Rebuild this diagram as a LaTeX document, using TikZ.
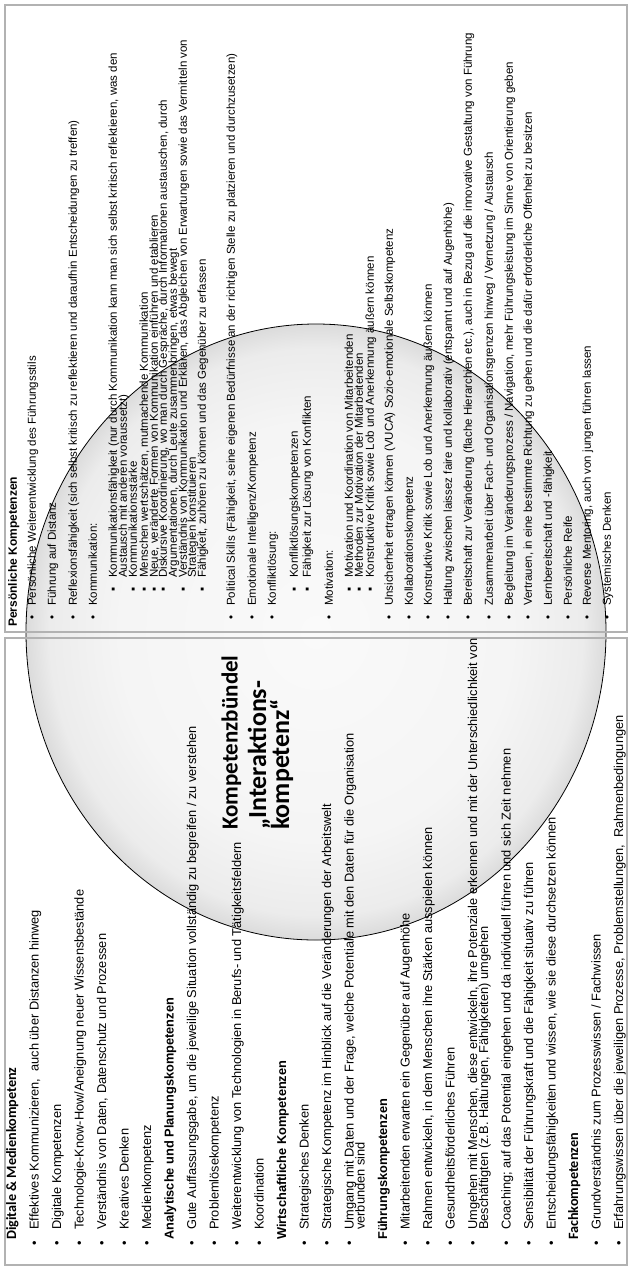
\documentclass[tikz,border=0pt]{standalone}
\usepackage{fontspec}
\setmainfont{Liberation Sans}
\newfontfamily\calib{Carlito}
\pgfdeclareradialshading{ringshade}{\pgfpoint{0bp}{0bp}}{color(0bp)=(gray!4); color(17bp)=(gray!8); color(23bp)=(gray!15); color(25bp)=(gray!28); color(50bp)=(gray!28)}
\tikzset{
  rt/.style={rotate=90, anchor=west, inner sep=0pt},
  pf/.style={rt, font=\fontsize{11.5}{12}\selectfont, text height=8.3pt, text depth=2.6pt},
  pfb/.style={rt, font=\fontsize{12}{12}\selectfont\bfseries, text height=8.6pt, text depth=2.7pt},
  bf/.style={rt, font=\fontsize{12.8}{14}\selectfont, text height=9.3pt, text depth=2.9pt},
  bfb/.style={rt, font=\fontsize{12.8}{14}\selectfont\bfseries, text height=9.3pt, text depth=2.9pt},
  bfc/.style={rt, font=\calib\fontsize{14.2}{15}\selectfont\bfseries, text height=9.3pt, text depth=2.9pt},
  ttl/.style={rt, font=\calib\fontsize{23}{24}\selectfont\bfseries, text height=16pt, text depth=5pt},
  ttlb/.style={rt, font=\calib\fontsize{26}{27}\selectfont\bfseries, text height=18pt, text depth=6pt},
  panel/.style={draw=gray!60, line width=2.5pt},
}
\newcommand\pitem[3]{\node[pf] (#1b) at (#2,620) {•}; \node[pf] (#1) at (#2,606) {#3};}
\newcommand\psub[3]{\node[pf] (#1b) at (#2,592) {▪}; \node[pf] (#1) at (#2,578) {#3};}
\newcommand\pcont[3]{\node[pf] (#1) at (#2,578) {#3};}
\newcommand\bitem[3]{\node[bf] (#1b) at (#2,1246) {•}; \node[bf] (#1) at (#2,1230) {#3};}
\newcommand\bcont[3]{\node[bf] (#1) at (#2,1230) {#3};}
\begin{document}
\begin{tikzpicture}[x=1pt,y=-1pt]
\useasboundingbox (0,0) rectangle (632,1270);
\fill[white] (0,0) rectangle (632,1270);
% circle
\path[shading=ringshade] (316,632) ellipse [x radius=290pt, y radius=308pt];
\draw[black, line width=0.8pt] (316,632) ellipse [x radius=290pt, y radius=308pt];
% panels
\draw[panel] (5,5) rectangle (627,632);
\draw[panel] (5,638) rectangle (627,1265);

% ---------- top panel: Persoenliche Kompetenzen
\node[pfb] (ph) at (14,627) {Persönliche Kompetenzen};
\pitem{p1}{33}{Persönliche Weiterentwicklung des Führungsstils}
\pitem{p2}{53}{Führung auf Distanz}
\pitem{p3}{74}{Reflexionsfähigkeit (sich selbst kritisch zu reflektieren und daraufhin Entscheidungen zu treffen)}
\pitem{p4}{94}{Kommunikation:}
\psub{p5}{114}{Kommunikationsfähigkeit (nur durch Kommunikation kann man sich selbst kritisch reflektieren, was den}
\pcont{p5c}{124}{Austausch mit anderen voraussetzt)}
\psub{p6}{134}{Kommunikationsstärke}
\psub{p7}{145}{Menschen wertschätzen, mutmachende Kommunikation}
\psub{p8}{155}{Neue, veränderte Formen von Kommunikation einführen und etablieren}
\psub{p9}{164}{Diskursive Koordinierung, wo man durch Gespräche, durch Informationen austauschen, durch}
\pcont{p9c}{174}{Argumentationen, durch Leute zusammenbringen, etwas bewegt}
\psub{p10}{184}{Verständnis von Kommunikation und Erklären, das Abgleichen von Erwartungen sowie das Vermitteln von}
\pcont{p10c}{193}{Strategien konstituieren}
\psub{p11}{203}{Fähigkeit, zuhören zu können und das Gegenüber zu erfassen}
\pitem{p12}{232}{Political Skills (Fähigkeit, seine eigenen Bedürfnisse an der richtigen Stelle zu platzieren und durchzusetzen)}
\pitem{p13}{253}{Emotionale Intelligenz/Kompetenz}
\pitem{p14}{273}{Konfliktlösung:}
\psub{p15}{295}{Konfliktlösungskompetenzen}
\psub{p16}{308}{Fähigkeit zur Lösung von Konflikten}
\pitem{p17}{330}{Motivation:}
\psub{p18}{350}{Motivation und Koordination von Mitarbeitenden}
\psub{p19}{360}{Methoden zur Motivation der Mitarbeitenden}
\psub{p20}{371}{Konstruktive Kritik sowie Lob und Anerkennung äußern können}
\pitem{p21}{390}{Unsicherheit ertragen können (VUCA) Sozio-emotionale Selbstkompetenz}
\pitem{p22}{410}{Kollaborationskompetenz}
\pitem{p23}{429}{Konstruktive Kritik sowie Lob und Anerkennung äußern können}
\pitem{p24}{449}{Haltung zwischen laissez faire und kollaborativ (entspannt und auf Augenhöhe)}
\pitem{p25}{469}{Bereitschaft zur Veränderung (flache Hierarchien etc.), auch in Bezug auf die innovative Gestaltung von Führung}
\pitem{p26}{490}{Zusammenarbeit über Fach- und Organisationsgrenzen hinweg / Vernetzung / Austausch}
\pitem{p27}{510}{Begleitung im Veränderungsprozess / Navigation, mehr Führungsleistung im Sinne von Orientierung geben}
\pitem{p28}{529}{Vertrauen, in eine bestimmte Richtung zu gehen und die dafür erforderliche Offenheit zu besitzen}
\pitem{p29}{549}{Lernbereitschaft und -fähigkeit}
\pitem{p30}{569}{Persönliche Reife}
\pitem{p31}{588}{Reverse Mentoring, auch von jungen führen lassen}
\pitem{p32}{608}{Systemisches Denken}

% ---------- bottom panel
\node[bfc] (h1) at (13,1240) {Digitale \& Medienkompetenz};
\bitem{b1}{35.5}{Effektives Kommunizieren,\ \ auch über Distanzen hinweg}
\bitem{b2}{58}{Digitale Kompetenzen}
\bitem{b3}{80.5}{Technologie-Know-How/Aneignung neuer Wissensbestände}
\bitem{b4}{103}{Verständnis von Daten, Datenschutz und Prozessen}
\bitem{b5}{125.5}{Kreatives Denken}
\bitem{b6}{148}{Medienkompetenz}
\node[bfb] (h2) at (170.5,1240) {Analytische und Planungskompetenzen};
\bitem{b7}{193}{Gute Auffassungsgabe, um die jeweilige Situation vollständig zu begreifen / zu verstehen}
\bitem{b8}{215.5}{Problemlösekompetenz}
\bitem{b9}{238}{Weiterentwicklung von Technologien in Berufs- und Tätigkeitsfeldern}
\bitem{b10}{260.5}{Koordination}
\node[bfb] (h3) at (283,1240) {Wirtschaftliche Kompetenzen};
\bitem{b11}{305.5}{Strategisches Denken}
\bitem{b12}{328}{Strategische Kompetenz im Hinblick auf die Veränderungen der Arbeitswelt}
\bitem{b13}{350.5}{Umgang mit Daten und der Frage, welche Potentiale mit den Daten für die Organisation}
\bcont{b13c}{361.5}{verbunden sind}
\node[bfb] (h4) at (384,1240) {Führungskompetenzen};
\bitem{b14}{406.5}{Mitarbeitenden erwarten ein Gegenüber auf Augenhöhe}
\bitem{b15}{429}{Rahmen entwickeln, in dem Menschen ihre Stärken ausspielen können}
\bitem{b16}{451.5}{Gesundheitsförderliches Führen}
\bitem{b17}{474}{Umgehen mit Menschen, diese entwickeln, ihre Potenziale erkennen und mit der Unterschiedlichkeit von}
\bcont{b17c}{485}{Beschäftigten (z.B. Haltungen, Fähigkeiten) umgehen}
\bitem{b18}{507.5}{Coaching; auf das Potential eingehen und da individuell führen und sich Zeit nehmen}
\bitem{b19}{530}{Sensibilität der Führungskraft und die Fähigkeit situativ zu führen}
\bitem{b20}{552.5}{Entscheidungsfähigkeiten und wissen, wie sie diese durchsetzen können}
\node[bfc] (h5) at (575,1240) {Fachkompetenzen};
\bitem{b21}{597.5}{Grundverständnis zum Prozesswissen / Fachwissen}
\bitem{b22}{620}{Erfahrungswissen über die jeweiligen Prozesse, Problemstellungen,\ \ Rahmenbedingungen}

% ---------- title
\node[ttl] (t1) at (232,830) {Kompetenzbündel};
\node[ttlb] (t2) at (260,830) {„Interaktions-};
\node[ttlb] (t3) at (283,830) {kompetenz“};
\end{tikzpicture}
\end{document}
